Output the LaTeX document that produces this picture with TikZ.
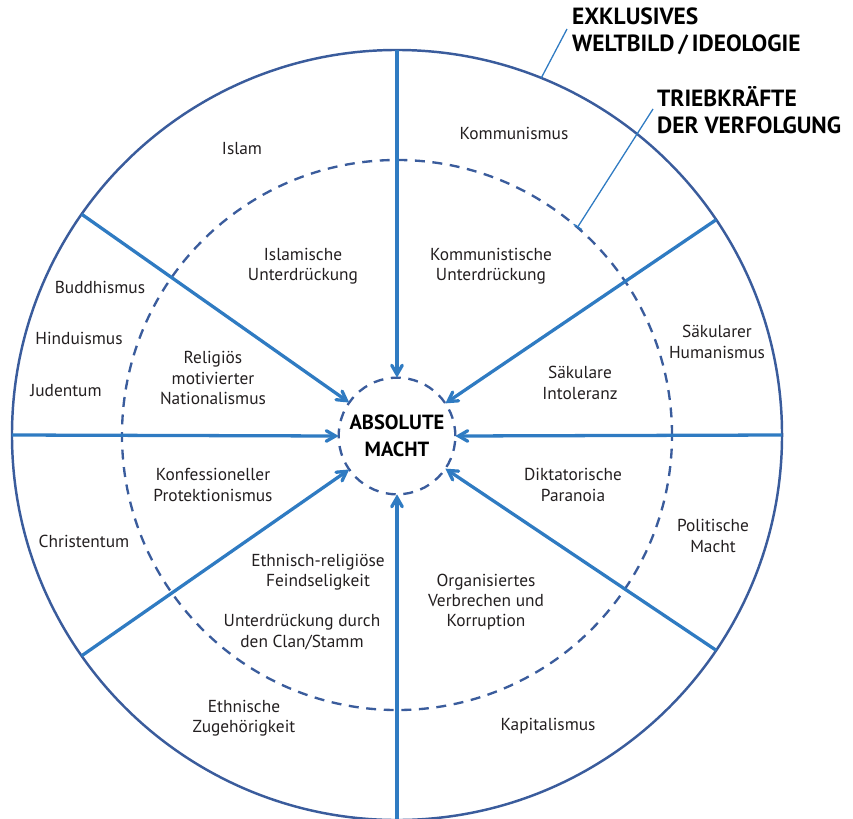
\documentclass[tikz,border=0pt]{standalone}
\usepackage{fontspec}
\setmainfont{PT Sans}
\usepackage{xcolor}
\definecolor{colorRing}{HTML}{3A5C9C}
\definecolor{colorSpoke}{HTML}{2F7BC2}
\definecolor{colorLabel}{HTML}{231F20}
\usepackage{tikz}
\usetikzlibrary{arrows, positioning}
\tikzset{
  ring/.style={circle, draw=colorRing, line width=2.1pt, inner sep=0pt, outer sep=0pt},
  dashring/.style={circle, draw=colorRing, line width=2pt, dash pattern=on 8.5pt off 6.5pt, inner sep=0pt, outer sep=0pt},
  spoke/.style={->, draw=colorSpoke, line width=2.8pt},
  leader/.style={draw=colorSpoke, line width=1.1pt},
  label/.style={align=center, text=colorLabel, font=\fontsize{14.8}{17.4}\selectfont},
  title/.style={align=left, anchor=north west, text=black, font=\fontsize{20}{23}\selectfont\bfseries}
}

\begin{document}
\begin{tikzpicture}[x=0.03cm, y=-0.03cm, >=angle 60]
\useasboundingbox (0,0) rectangle (853,818);
\node[ring, minimum size=23.1cm] (welt) at (397,435) {};
\node[dashring, minimum size=16.5cm] (trieb) at (397,435) {};
\node[dashring, minimum size=3.5cm, align=center, font=\fontsize{17.5}{22.7}\selectfont\bfseries] (macht) at (397,436) {ABSOLUTE\\MACHT};
\foreach \a in {90, 34, 0, -34, -90, 215, 180, 145} {
  \draw[spoke] (welt.\a) -- (macht.\a);
}
\node[label] (islam) at (242,149) {Islam};
\node[label] (kommunismus) at (514,133) {Kommunismus};
\node[label] (islamU) at (303,266) {Islamische\\Unterdrückung};
\node[label] (kommunismusU) at (491,266) {Kommunistische\\Unterdrückung};
\node[label] (buddhismus) at (100,287) {Buddhismus};
\node[label] (hinduismus) at (79,338) {Hinduismus};
\node[label] (judentum) at (66,391) {Judentum};
\node[label] (nationalismus) at (213,378) {Religiös\\motivierter\\Nationalismus};
\node[label] (humanismus) at (717,342) {Säkularer\\Humanismus};
\node[label] (intoleranz) at (580,383) {Säkulare\\Intoleranz};
\node[label] (protektionismus) at (213,485) {Konfessioneller\\Protektionismus};
\node[label] (paranoia) at (573,485) {Diktatorische\\Paranoia};
\node[label] (christentum) at (84,541) {Christentum};
\node[label] (politik) at (713,536) {Politische\\Macht};
\node[label] (feindseligkeit) at (318,572) {Ethnisch-religiöse\\Feindseligkeit};
\node[label] (clan) at (302,632) {Unterdrückung durch\\den Clan/Stamm};
\node[label] (verbrechen) at (486,602) {Organisiertes\\Verbrechen und\\Korruption};
\node[label] (ethnie) at (244,718) {Ethnische\\Zugehörigkeit};
\node[label] (kapitalismus) at (548,726) {Kapitalismus};
\node[title] (weltbild) at (568,4) {EXKLUSIVES\\WELTBILD\,/\,IDEOLOGIE};
\node[title] (triebkraefte) at (653,82) {TRIEBKRÄFTE\\DER VERFOLGUNG};
\coordinate (weltEnde) at (567,29);
\coordinate (triebEnde) at (653,109);
\draw[leader] (welt.68.3) -- (weltEnde);
\draw[leader, |-] (trieb.49.8) -- (triebEnde);
\end{tikzpicture}
\end{document}
